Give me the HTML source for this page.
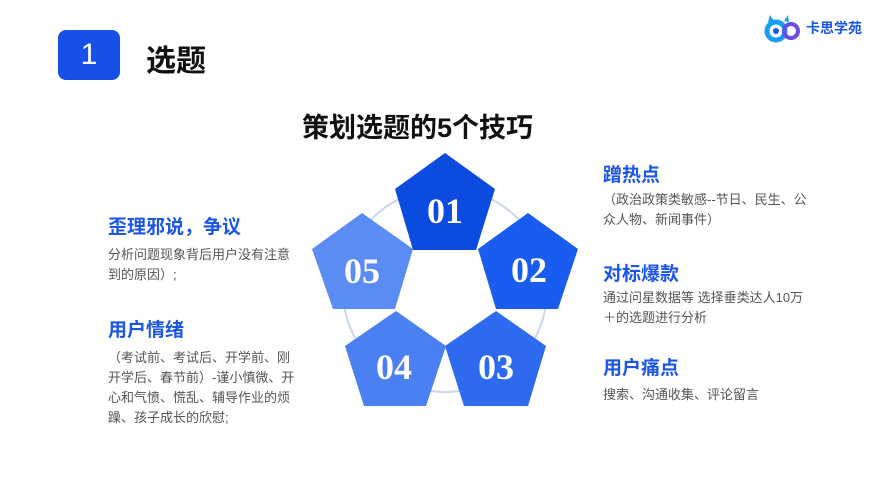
<!DOCTYPE html>
<html><head><meta charset="utf-8"><style>
body{margin:0;width:889px;height:500px;background:#fff;position:relative;overflow:hidden;font-family:"Liberation Sans","Noto Sans CJK SC",sans-serif}
.a{position:absolute;white-space:nowrap}
.h{font-weight:bold;color:#1a56e8;font-size:19px}
.t{color:#555;font-size:13px;line-height:20px}
</style></head><body>
<div class="a" style="left:58px;top:30px;width:62px;height:50px;background:#1650e8;border-radius:8px;color:#fff;font-size:30px;text-align:center;line-height:50px">1</div>
<div class="a" style="left:146px;top:36px;font-size:30px;font-weight:bold;color:#111">选题</div>
<div class="a" style="left:764px;top:12px;">
<svg width="40" height="34" viewBox="0 0 40 34"><circle cx="12" cy="19" r="9" fill="none" stroke="#1a9cf0" stroke-width="5"/><circle cx="27" cy="19" r="7" fill="none" stroke="#6b4de6" stroke-width="4"/><circle cx="12" cy="19" r="3" fill="#1a56e8"/><path d="M4 10 L6 3 L10 9 M20 9 L24 3 L25 10" fill="#1a9cf0"/></svg></div>
<div class="a" style="left:806px;top:18px;font-size:14px;font-weight:bold;color:#1a56e8">卡思学苑</div>
<div class="a" style="left:302px;top:106px;font-size:27px;font-weight:bold;color:#111">策划选题的5个技巧</div>
<svg class="a" style="left:0;top:0" width="889" height="500">
<circle cx="445" cy="290" r="102" fill="none" stroke="#c9d6ee" stroke-width="2"/>
<polygon points="445,153 495,189 476,250 413,250 395,189" fill="#0b4be0"/>
<polygon points="528,213 578,249 558,309 496,309 478,249" fill="#1a5cf0"/>
<polygon points="496,311 546,346 528,406 464,406 445,346" fill="#2e6af0"/>
<polygon points="396,311 446,346 426,406 364,406 345,346" fill="#4a80f2"/>
<polygon points="362,213 413,249 395,309 333,309 312,249" fill="#5a8cf4"/>
<g font-family="Liberation Serif,serif" font-weight="bold" font-size="36" fill="#fff" text-anchor="middle">
<text x="445" y="223">01</text><text x="529" y="282">02</text><text x="496" y="379">03</text><text x="394" y="379">04</text><text x="362" y="283">05</text></g>
</svg>
<div class="a h" style="left:108px;top:212px">歪理邪说，争议</div>
<div class="a t" style="left:108px;top:245px">分析问题现象背后用户没有注意<br>到的原因）;</div>
<div class="a h" style="left:108px;top:315px">用户情绪</div>
<div class="a t" style="left:108px;top:348px">（考试前、考试后、开学前、刚<br>开学后、春节前）-谨小慎微、开<br>心和气愤、慌乱、辅导作业的烦<br>躁、孩子成长的欣慰;</div>
<div class="a h" style="left:603px;top:160px">蹭热点</div>
<div class="a t" style="left:603px;top:190px">（政治政策类敏感--节日、民生、公<br>众人物、新闻事件）</div>
<div class="a h" style="left:603px;top:259px">对标爆款</div>
<div class="a t" style="left:603px;top:288px">通过问星数据等 选择垂类达人10万<br>＋的选题进行分析</div>
<div class="a h" style="left:603px;top:353px">用户痛点</div>
<div class="a t" style="left:603px;top:385px">搜索、沟通收集、评论留言</div>
</body></html>
